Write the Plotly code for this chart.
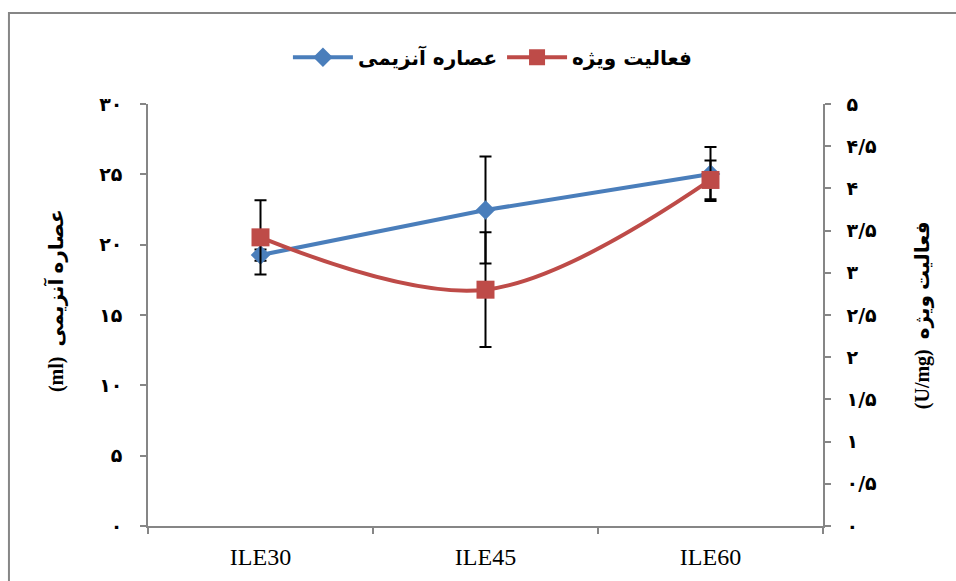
import plotly.graph_objects as go

# Samples
categories = ["ILE30", "ILE45", "ILE60"]

# Enzyme extract volume (ml), left axis
extract_ml = [19.26, 22.46, 25.02]
extract_err = [0.4, 3.8, 1.92]

# Specific activity (U/mg), right axis
activity = [3.42, 2.80, 4.10]
activity_err = [0.44, 0.68, 0.23]

name_extract = "عصاره آنزیمی"
name_activity = "فعالیت ویژه"

# Tick labels in Persian digits
left_vals = [0, 5, 10, 15, 20, 25, 30]
left_text = ["۰", "۵", "۱۰", "۱۵", "۲۰", "۲۵", "۳۰"]
right_vals = [0, 0.5, 1, 1.5, 2, 2.5, 3, 3.5, 4, 4.5, 5]
right_text = ["۰", "۰/۵", "۱", "۱/۵", "۲", "۲/۵", "۳", "۳/۵", "۴", "۴/۵", "۵"]

BLUE = "#4A7EBB"
RED = "#BE4B48"
AXIS = "#868686"
SERIF = "Liberation Serif"
ARABIC = "DejaVu Sans"

fig = go.Figure()

fig.add_trace(go.Scatter(
    x=categories, y=extract_ml, name=name_extract,
    mode="lines+markers",
    line=dict(color=BLUE, width=4),
    marker=dict(symbol="diamond", size=15, color=BLUE),
    error_y=dict(type="data", array=extract_err, visible=True,
                 color="black", thickness=2, width=6),
    yaxis="y",
))

fig.add_trace(go.Scatter(
    x=categories, y=activity, name=name_activity,
    mode="lines+markers",
    line=dict(color=RED, width=4, shape="spline", smoothing=1),
    marker=dict(symbol="square", size=18, color=RED),
    error_y=dict(type="data", array=activity_err, visible=True,
                 color="black", thickness=2, width=6),
    yaxis="y2",
))

axis_common = dict(
    showgrid=False, zeroline=False, showline=True,
    linecolor=AXIS, linewidth=1.5,
    ticks="outside", ticklen=6, tickwidth=1.5, tickcolor=AXIS,
)

fig.update_layout(
    width=956, height=581,
    margin=dict(l=148, r=133, t=104, b=55),
    paper_bgcolor="white", plot_bgcolor="white",
    font=dict(family=SERIF, color="black"),
    showlegend=True,
    legend=dict(
        orientation="h", x=0.511, xanchor="center", y=1.111, yanchor="middle",
        font=dict(size=20, family=ARABIC, weight="bold"),
        itemwidth=60, bgcolor="rgba(0,0,0,0)",
    ),
    xaxis=dict(
        **axis_common, type="category", range=[-0.5, 2.5],
        tickson="boundaries",
        tickfont=dict(size=24, family=SERIF),
        ticklabelstandoff=8,
    ),
    yaxis=dict(
        **axis_common, range=[0, 30],
        tickvals=left_vals, ticktext=left_text,
        tickfont=dict(size=19, family=ARABIC, weight="bold"),
        ticklabelstandoff=14,
    ),
    yaxis2=dict(
        **axis_common, range=[0, 5], overlaying="y", side="right",
        tickvals=right_vals, ticktext=right_text,
        tickfont=dict(size=19, family=ARABIC, weight="bold"),
        ticklabelstandoff=12,
    ),
    annotations=[
        dict(text="<b>(ml)</b>  <b>" + name_extract + "</b>",
             xref="paper", yref="paper", x=-0.138, y=0.535,
             xanchor="center", yanchor="middle",
             textangle=-90, showarrow=False,
             font=dict(size=20, family=SERIF + ", " + ARABIC)),
        dict(text="<b>(U/mg)</b>  <b>" + name_activity + "</b>",
             xref="paper", yref="paper", x=1.147, y=0.50,
             xanchor="center", yanchor="middle",
             textangle=-90, showarrow=False,
             font=dict(size=20, family=SERIF + ", " + ARABIC)),
    ],
    shapes=[
        dict(type="rect", xref="paper", yref="paper",
             x0=-0.206, x1=1.215, y0=-0.2, y1=1.2155,
             line=dict(color=AXIS, width=2), layer="below"),
    ],
)

fig.write_html("out.html")
